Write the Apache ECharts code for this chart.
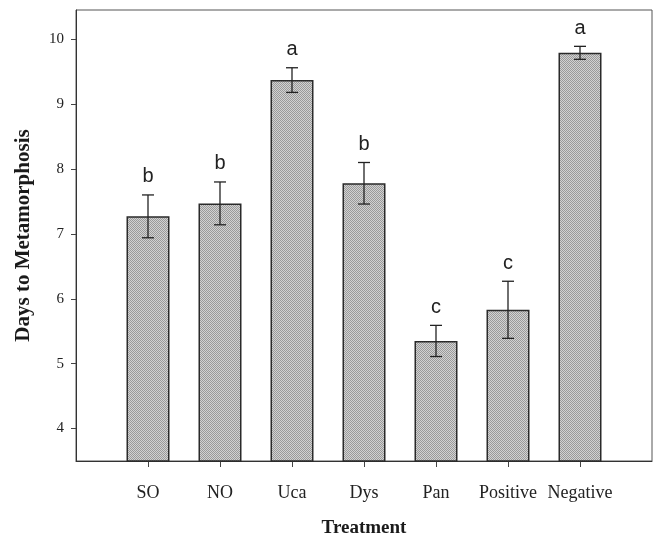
<!DOCTYPE html>
<html>
<head>
<meta charset="utf-8">
<script src="https://cdn.jsdelivr.net/npm/echarts@6/dist/echarts.min.js"></script>
<style>
html,body{margin:0;padding:0;background:#fff;}
#chart{width:657px;height:536px;}
</style>
</head>
<body>
<div id="chart"></div>
<script>
const categories = ['SO', 'NO', 'Uca', 'Dys', 'Pan', 'Positive', 'Negative'];
const values = [7.27, 7.47, 9.37, 7.78, 5.35, 5.83, 9.79];
const errors = [0.33, 0.33, 0.19, 0.32, 0.24, 0.44, 0.10];
const letters = ['b', 'b', 'a', 'b', 'c', 'c', 'a'];

// stipple texture for the bars
const pat = document.createElement('canvas');
pat.width = 2; pat.height = 2;
const pctx = pat.getContext('2d');
pctx.fillStyle = '#d2d2d2'; pctx.fillRect(0, 0, 2, 2);
pctx.fillStyle = '#9a9a9a'; pctx.fillRect(0, 0, 1, 1); pctx.fillRect(1, 1, 1, 1);

const axisCats = [''].concat(categories, ['']);
const barData = [null].concat(values, [null]);
const errData = categories.map((c, i) => [i + 1, values[i], errors[i], i]);

const chart = echarts.init(document.getElementById('chart'), null, {renderer: 'canvas'});
chart.setOption({
  animation: false,
  backgroundColor: '#ffffff',
  grid: {left: 76, right: 5, top: 10, bottom: 75, show: true, borderColor: '#555', borderWidth: 1,
         containLabel: false, outerBoundsMode: 'none'},
  xAxis: {
    type: 'category',
    data: axisCats,
    boundaryGap: false,
    name: 'Treatment',
    nameLocation: 'middle',
    nameGap: 58,
    nameTextStyle: {fontFamily: 'Liberation Serif', fontWeight: 'bold', fontSize: 19, color: '#1a1a1a'},
    axisLine: {lineStyle: {color: '#333', width: 1}},
    axisTick: {length: 6, interval: (i, v) => v !== '', lineStyle: {color: '#444'}},
    axisLabel: {interval: 0, fontFamily: 'Liberation Serif', fontSize: 18, color: '#222', margin: 23},
    splitLine: {show: false}
  },
  yAxis: {
    type: 'value',
    min: 3.5,
    max: 10.45,
    name: 'Days to Metamorphosis',
    nameLocation: 'middle',
    nameGap: 42,
    nameTextStyle: {fontFamily: 'Liberation Serif', fontWeight: 'bold', fontSize: 21, color: '#1a1a1a'},
    axisLine: {show: true, lineStyle: {color: '#333', width: 1}},
    axisTick: {show: true, length: 5, lineStyle: {color: '#444'}},
    axisLabel: {showMinLabel: false, showMaxLabel: false, fontFamily: 'Liberation Serif', fontSize: 15, color: '#222', margin: 12},
    splitLine: {show: false}
  },
  series: [
    {
      type: 'bar',
      data: barData,
      barWidth: 43,
      itemStyle: {color: {image: pat, repeat: 'repeat'}, borderColor: '#2a2a2a', borderWidth: 1.5}
    },
    {
      type: 'custom',
      data: errData,
      z: 10,
      renderItem: function (params, api) {
        const x = api.value(0), v = api.value(1), e = api.value(2), li = api.value(3);
        const top = api.coord([x, v + e]);
        const bot = api.coord([x, v - e]);
        const hw = 6;
        const ls = {stroke: '#222', lineWidth: 1.3};
        return {
          type: 'group',
          children: [
            {type: 'line', shape: {x1: top[0], y1: top[1], x2: bot[0], y2: bot[1]}, style: ls},
            {type: 'line', shape: {x1: top[0] - hw, y1: top[1], x2: top[0] + hw, y2: top[1]}, style: ls},
            {type: 'line', shape: {x1: bot[0] - hw, y1: bot[1], x2: bot[0] + hw, y2: bot[1]}, style: ls},
            {type: 'text', style: {text: letters[li], x: top[0], y: top[1] - 18, align: 'center', verticalAlign: 'middle',
              fontFamily: 'Liberation Sans', fontSize: 20, fill: '#222'}}
          ]
        };
      }
    }
  ]
});
</script>
</body>
</html>
